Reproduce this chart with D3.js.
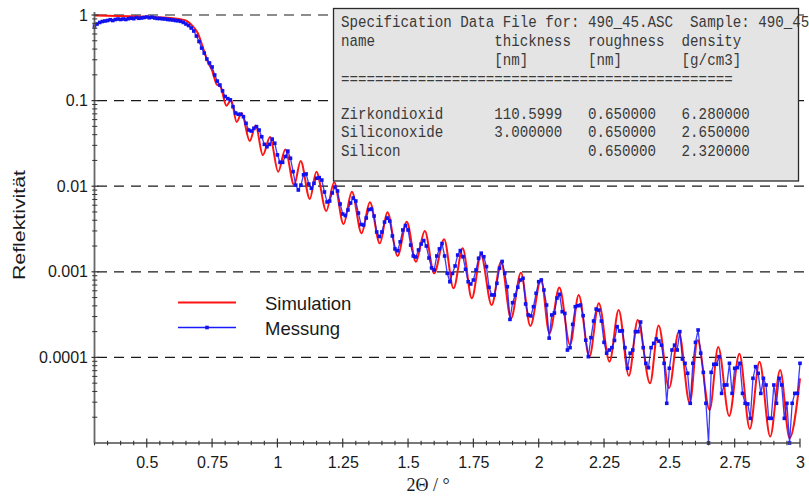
<!DOCTYPE html>
<html>
<head>
<meta charset="utf-8">
<script src="https://cdn.jsdelivr.net/npm/d3@7/dist/d3.min.js"></script>
<style>
  body { margin: 0; background: #fff; }
  svg { display: block; }
</style>
</head>
<body>
<svg id="chart" width="809" height="497"></svg>
<script>
// Simulated reflectivity: turning points of the fitted curve (2Θ in degrees)
const simAngle = [0.300, 0.591, 0.649, 0.675, 0.695, 0.718, 0.737, 0.748, 0.767, 0.783,
  0.805, 0.823, 0.844, 0.863, 0.894, 0.917, 0.944, 0.972, 1.003, 1.030,
  1.064, 1.089, 1.124, 1.149, 1.187, 1.217, 1.253, 1.285, 1.322, 1.354,
  1.392, 1.421, 1.460, 1.495, 1.530, 1.564, 1.600, 1.638, 1.674, 1.709,
  1.744, 1.779, 1.820, 1.856, 1.894, 1.932, 1.968, 2.009, 2.041, 2.079,
  2.120, 2.153, 2.194, 2.230, 2.271, 2.306, 2.345, 2.379, 2.426, 2.459,
  2.499, 2.536, 2.578, 2.608, 2.654, 2.687, 2.729, 2.768, 2.808, 2.845,
  2.886, 2.924, 2.960, 3.000];
const simRefl = [0.987, 0.923, 0.863, 0.744, 0.616, 0.390, 0.268, 0.234, 0.156, 0.144,
  0.0872, 0.1016, 0.0562, 0.0716, 0.0337, 0.0512, 0.0231, 0.0376, 0.01476, 0.0268,
  0.01033, 0.01969, 0.00708, 0.01476, 0.00513, 0.01109, 0.00361, 0.00863, 0.00282, 0.00649,
  0.00215, 0.00496, 0.00153, 0.00385, 0.00131, 0.00300, 0.000960, 0.00240, 0.000641, 0.00188,
  0.000490, 0.00157, 0.000409, 0.00131, 0.000286, 0.000975, 0.000233, 0.000817, 0.000191, 0.000656,
  0.000140, 0.000536, 0.000102, 0.000428, 0.0000891, 0.000358, 0.0000611, 0.000274, 0.0000498, 0.000236,
  0.0000439, 0.000200, 0.0000291, 0.000160, 0.0000243, 0.000132, 0.0000207, 0.000110, 0.0000146, 0.0000891,
  0.0000119, 0.0000713, 0.0000114, 0.0000570];

// Measured scan: 0.30° to 3.00° in 0.01° steps
const scanStart = 0.30;
const scanStep = 0.01;
const measRefl = [
  0.744, 0.785, 0.818, 0.840, 0.851, 0.862, 0.881, 0.862, 0.886, 0.898,
  0.886, 0.898, 0.886, 0.906, 0.918, 0.906, 0.935, 0.915, 0.923, 0.935,
  0.948, 0.928, 0.943, 0.923, 0.911, 0.911, 0.903, 0.898, 0.886, 0.881,
  0.874, 0.862, 0.856, 0.844, 0.818, 0.785, 0.754, 0.705, 0.650, 0.568,
  0.490, 0.411, 0.359, 0.306, 0.275, 0.247, 0.199, 0.169, 0.152, 0.130,
  0.1115, 0.1055, 0.102, 0.0849, 0.0716, 0.0692, 0.0692, 0.0648, 0.0543, 0.0453,
  0.0441, 0.0475, 0.0496, 0.0453, 0.0378, 0.0308, 0.0289, 0.0308, 0.0355, 0.0317,
  0.0232, 0.0190, 0.0190, 0.0222, 0.0257, 0.0212, 0.0148, 0.0103, 0.00903, 0.0103,
  0.0136, 0.0139, 0.0106, 0.00945, 0.0108, 0.0124, 0.0126, 0.0118, 0.00856, 0.00654,
  0.00671, 0.00833, 0.00978, 0.00879, 0.00620, 0.00473, 0.00454, 0.00527, 0.00636, 0.00728,
  0.00671, 0.00486, 0.00357, 0.00352, 0.00425, 0.00534, 0.00541, 0.00448, 0.00292, 0.00258,
  0.00292, 0.00381, 0.00425, 0.00392, 0.00262, 0.00185, 0.00176, 0.00224, 0.00308, 0.00347,
  0.00308, 0.00205, 0.00153, 0.00149, 0.00180, 0.00211, 0.00232, 0.00200, 0.00145, 0.00111,
  0.00105, 0.00153, 0.00185, 0.00214, 0.00153, 0.000960, 0.000766, 0.000960, 0.00117, 0.00157,
  0.00177, 0.00150, 0.00107, 0.000766, 0.000720, 0.000802, 0.00105, 0.00144, 0.00165, 0.00150,
  0.00115, 0.000659, 0.000536, 0.000536, 0.000734, 0.00110, 0.00132, 0.000960, 0.000669, 0.000278,
  0.000435, 0.000536, 0.000659, 0.000802, 0.000840, 0.000421, 0.000313, 0.000305, 0.000391, 0.000561,
  0.000766, 0.000802, 0.000613, 0.000409, 0.000168, 0.000313, 0.000330, 0.000494, 0.000546, 0.000342,
  0.000327, 0.000122, 0.000130, 0.000243, 0.000391, 0.000401, 0.000409, 0.000307, 0.000159, 0.000102,
  0.000170, 0.000266, 0.000367, 0.000357, 0.000266, 0.000150, 0.000112, 0.000122, 0.000130, 0.000158,
  0.000229, 0.000203, 0.000205, 0.000130, 0.0000746, 0.000112, 0.000122, 0.000200, 0.000200, 0.000259,
  0.000130, 0.0000853, 0.0000758, 0.000130, 0.000146, 0.000164, 0.000155, 0.000139, 0.0000853, 0.0000291,
  0.0000746, 0.000122, 0.000139, 0.000122, 0.000200, 0.0000958, 0.0000853, 0.0000652, 0.0000291, 0.0000853,
  0.000150, 0.000209, 0.000112, 0.0000669, 0.0000291, 0.00001, 0.0000669, 0.0000831, 0.0000831, 0.000102,
  0.0000380, 0.0000476, 0.0000476, 0.0000853, 0.0000380, 0.0000746, 0.0000758, 0.0000853, 0.0000380, 0.0000291,
  0.0000286, 0.0000194, 0.0000570, 0.0000779, 0.0000652, 0.0000380, 0.0000570, 0.0000476, 0.0000194, 0.0000194,
  0.0000476, 0.0000291, 0.0000570, 0.0000476, 0.0000194, 0.0000291, 0.00001, 0.0000291, 0.0000380, 0.0000380,
  0.0000853];

const xMajorTicks = [0.5, 0.75, 1, 1.25, 1.5, 1.75, 2, 2.25, 2.5, 2.75, 3];
const xTickLabels = ["0.5", "0.75", "1", "1.25", "1.5", "1.75", "2", "2.25", "2.5", "2.75", "3"];
const yDecades = [1, 0.1, 0.01, 0.001, 0.0001];
const yTickLabels = ["1", "0.1", "0.01", "0.001", "0.0001"];
const seriesNames = ["Simulation", "Messung"];
const xTitle = "2Θ / °";
const yTitle = "Reflektivität";

const specHeader = [
  "Specification Data File for: 490_45.ASC  Sample: 490_45",
  "name              thickness  roughness  density",
  "                  [nm]       [nm]       [g/cm3]",
  "=============================================="
];
const specLayers = [
  "Zirkondioxid      110.5999   0.650000   6.280000",
  "Siliconoxide      3.000000   0.650000   2.650000",
  "Silicon                      0.650000   2.320000"
];

// ---------------------------------------------------------------
const svg = d3.select("#chart");
const sans = "'Liberation Sans', Arial, Helvetica, sans-serif";
const RED = "#ff1414", BLUE = "#1a1aff";

const x = d3.scaleLinear().domain([0.3, 3]).range([94.5, 800]);
const y = d3.scaleLog().domain([1e-5, 1]).range([443, 15]);

svg.append("rect").attr("width", 809).attr("height", 497).attr("fill", "#fff");

// dashed decade grid
svg.append("g").selectAll("line").data(yDecades).join("line")
  .attr("x1", 97).attr("x2", 806)
  .attr("y1", d => y(d)).attr("y2", d => y(d))
  .attr("stroke", "#1a1a1a").attr("stroke-width", 1.2)
  .attr("stroke-dasharray", "10,7");

// curves
const plot = svg.append("g");
plot.append("path")
  .datum(simAngle.map((a, i) => [a, simRefl[i]]))
  .attr("fill", "none").attr("stroke", RED).attr("stroke-width", 2)
  .attr("d", d3.line().x(d => x(d[0])).y(d => y(d[1])).curve(d3.curveMonotoneX));

const meas = measRefl.map((r, i) => [scanStart + i * scanStep, r]);
plot.append("path")
  .datum(meas)
  .attr("fill", "none").attr("stroke", BLUE).attr("stroke-width", 1.3)
  .attr("stroke-opacity", 0.85)
  .attr("d", d3.line().x(d => x(d[0])).y(d => y(d[1])));
plot.append("g").selectAll("rect").data(meas).join("rect")
  .attr("x", d => x(d[0]) - 1.8).attr("y", d => y(d[1]) - 1.8)
  .attr("width", 3.6).attr("height", 3.6).attr("fill", "#1212f0");

// x axis
const xMinor = d3.range(0.3, 3.001, 0.05).map(v => +v.toFixed(2)).filter(v => !xMajorTicks.includes(v));
const gx = svg.append("g").attr("transform", "translate(0,443)");
gx.call(d3.axisBottom(x).tickValues(xMajorTicks).tickSize(0).tickPadding(13.6)
  .tickFormat((d, i) => xTickLabels[i]));
gx.select(".domain").remove();
gx.selectAll("text").attr("font-family", sans).attr("font-size", 16).attr("fill", "#1a1a1a");
gx.append("line").attr("x1", 94.5).attr("x2", 800).attr("stroke", "#4d4d4d").attr("stroke-width", 1.6);
gx.append("g").selectAll("line").data(xMajorTicks).join("line")
  .attr("x1", d => x(d)).attr("x2", d => x(d)).attr("y1", -4.5).attr("y2", 4.5)
  .attr("stroke", "#333").attr("stroke-width", 1.2);
gx.append("g").selectAll("line").data(xMinor).join("line")
  .attr("x1", d => x(d)).attr("x2", d => x(d)).attr("y1", -2.3).attr("y2", 2.3)
  .attr("stroke", "#333").attr("stroke-width", 1.1);

// y axis
const yMinor = [];
[1e-5, 1e-4, 1e-3, 1e-2, 1e-1].forEach(dec => { for (let k = 2; k <= 9; k++) yMinor.push(dec * k); });
const gy = svg.append("g").attr("transform", "translate(94.5,0)");
gy.call(d3.axisLeft(y).tickValues(yDecades).tickSize(0).tickPadding(6.5)
  .tickFormat((d, i) => yTickLabels[i]));
gy.select(".domain").remove();
gy.selectAll("text").attr("font-family", sans).attr("font-size", 16).attr("fill", "#1a1a1a");
gy.append("line").attr("y1", 12).attr("y2", 443).attr("stroke", "#666").attr("stroke-width", 1.8);
gy.append("g").selectAll("line").data(yDecades).join("line")
  .attr("y1", d => y(d)).attr("y2", d => y(d)).attr("x1", -3).attr("x2", 4)
  .attr("stroke", "#333").attr("stroke-width", 1.2);
gy.append("g").selectAll("line").data(yMinor).join("line")
  .attr("y1", d => y(d)).attr("y2", d => y(d)).attr("x1", -2.3).attr("x2", 2.8)
  .attr("stroke", "#333").attr("stroke-width", 1);

// axis titles
svg.append("text").attr("transform", "translate(25,225) rotate(-90)")
  .attr("text-anchor", "middle").attr("font-family", sans).attr("font-size", 17)
  .attr("textLength", 110).attr("lengthAdjust", "spacingAndGlyphs")
  .attr("fill", "#1a1a1a").text(yTitle);
svg.append("text").attr("x", 428).attr("y", 491).attr("text-anchor", "middle")
  .attr("font-family", "'Liberation Serif', 'Times New Roman', serif").attr("font-size", 18)
  .attr("fill", "#1a1a1a").text(xTitle);

// legend
const legend = svg.append("g");
legend.append("line").attr("x1", 178).attr("x2", 236).attr("y1", 302.5).attr("y2", 302.5)
  .attr("stroke", RED).attr("stroke-width", 2);
legend.append("line").attr("x1", 178).attr("x2", 236).attr("y1", 327.5).attr("y2", 327.5)
  .attr("stroke", BLUE).attr("stroke-width", 1.3);
legend.append("rect").attr("x", 205.2).attr("y", 325.7).attr("width", 3.6).attr("height", 3.6)
  .attr("fill", "#1212f0");
legend.selectAll("text").data(seriesNames).join("text")
  .attr("x", 265).attr("y", (d, i) => 309.5 + i * 25)
  .attr("font-family", sans).attr("font-size", 18.5).attr("fill", "#1a1a1a")
  .text(d => d);

// specification panel
const panel = svg.append("g");
panel.append("rect").attr("x", 333.5).attr("y", 8.5).attr("width", 465).attr("height", 172.5)
  .attr("fill", "#e4e4e4").attr("stroke", "#2a2a2a").attr("stroke-width", 1.3);
const mono = "'Liberation Mono', 'Courier New', monospace";
function block(lines, top) {
  panel.append("g").attr("transform", `translate(341,${top}) scale(1,1.2)`)
    .selectAll("text").data(lines).join("text")
    .attr("x", 0).attr("y", (d, i) => i * 15.8)
    .attr("font-family", mono).attr("font-size", 14.2).attr("fill", "#3a3a3a")
    .attr("xml:space", "preserve").style("white-space", "pre")
    .text(d => d);
}
block(specHeader, 27);
block(specLayers, 118.5);
</script>
</body>
</html>
